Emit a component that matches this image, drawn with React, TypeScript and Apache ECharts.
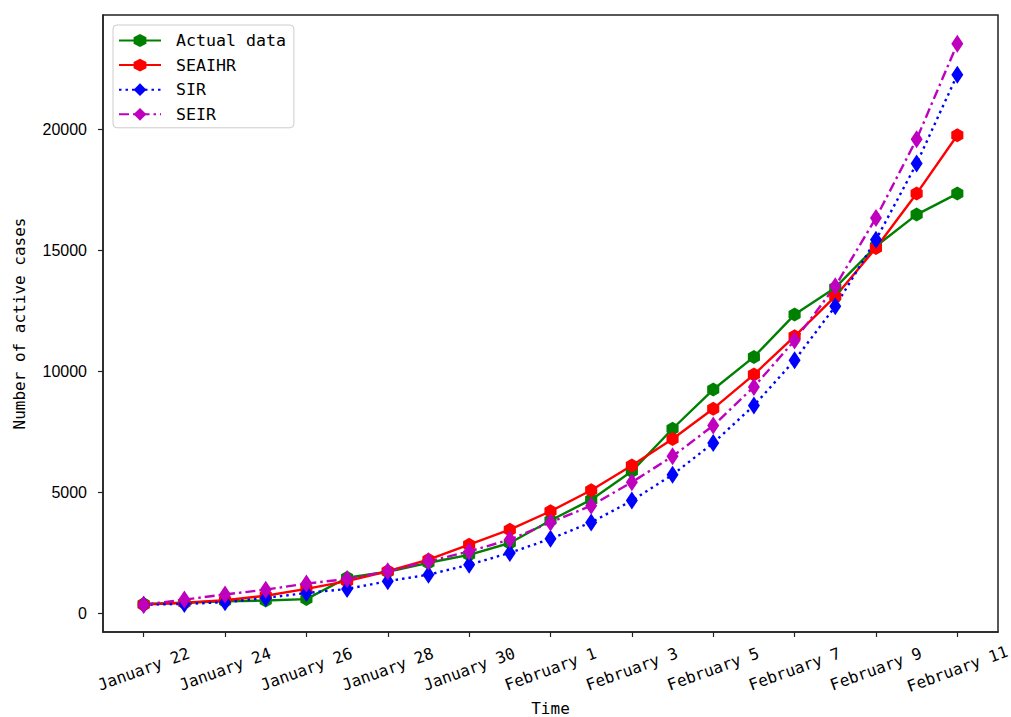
import React, { useEffect, useRef } from "react";
import * as echarts from "echarts";

const dates = [
  "January 22", "January 23", "January 24", "January 25", "January 26", "January 27", "January 28",
  "January 29", "January 30", "January 31", "February 1", "February 2", "February 3", "February 4",
  "February 5", "February 6", "February 7", "February 8", "February 9", "February 10", "February 11",
];
const actualData = [400, 450, 510, 540, 600, 1480, 1730, 2100, 2430, 2920, 3850, 4710, 5880, 7640, 9260, 10610, 12360, 13470, 15180, 16490, 17360];
const seaihr = [370, 450, 550, 740, 1020, 1340, 1750, 2230, 2850, 3470, 4230, 5100, 6120, 7220, 8470, 9880, 11460, 13110, 15110, 17360, 19770];
const sir = [370, 400, 470, 650, 850, 1020, 1340, 1610, 2020, 2510, 3090, 3770, 4670, 5740, 7050, 8600, 10470, 12700, 15450, 18600, 22270];
const seir = [370, 580, 790, 990, 1240, 1430, 1750, 2160, 2570, 3060, 3770, 4460, 5430, 6500, 7770, 9370, 11290, 13530, 16350, 19610, 23550];
const yTicks = [0, 5000, 10000, 15000, 20000];
const xTickIdx = [0, 2, 4, 6, 8, 10, 12, 14, 16, 18, 20];

const MONO = "'DejaVu Sans Mono', monospace";
const HEX = "path://M0,-1 L0.866,-0.5 L0.866,0.5 L0,1 L-0.866,0.5 L-0.866,-0.5 Z";

function toPts(arr: number[]) {
  return arr.map((v, i) => [i, v]);
}

export default function App() {
  const ref = useRef<HTMLDivElement>(null);
  useEffect(() => {
    if (!ref.current) return;
    const chart = echarts.init(ref.current, null, { renderer: "svg" });
    const mk = (name: string, data: number[], color: string, symbol: string, size: any, type: any) => ({
      name,
      type: "line",
      data: toPts(data),
      symbol,
      symbolSize: size,
      symbolKeepAspect: true,
      showSymbol: true,
      lineStyle: { color, width: 2.4, type },
      itemStyle: { color, borderWidth: 0 },
      emphasis: { disabled: true },
    });
    chart.setOption({
      animation: false,
      backgroundColor: "#fff",
      grid: {
        left: 103, right: 13, top: 15, bottom: 85,
        outerBoundsMode: "none",
        containLabel: false,
        show: true, borderColor: "#222", borderWidth: 1.5, backgroundColor: "transparent",
      },
      legend: {
        orient: "vertical",
        left: 113,
        top: 25,
        padding: [7, 8, 5, 5],
        itemWidth: 42,
        itemHeight: 16,
        itemGap: 7.6,
        borderColor: "#ccc",
        borderWidth: 1,
        borderRadius: 4,
        backgroundColor: "rgba(255,255,255,0.8)",
        textStyle: { fontFamily: MONO, fontSize: 16.6, color: "#000", lineHeight: 16, padding: [0, 0, 0, 10] },
        data: ["Actual data", "SEAIHR", "SIR", "SEIR"],
      },
      xAxis: {
        type: "value",
        min: -1,
        max: 21,
        name: "Time",
        nameLocation: "middle",
        nameGap: 67,
        nameTextStyle: { fontFamily: MONO, fontSize: 16, color: "#000" },
        axisLine: { show: true, onZero: false, lineStyle: { color: "#222", width: 1.5 } },
        axisTick: { show: true, length: 5, customValues: xTickIdx, lineStyle: { color: "#222", width: 1.2 } },
        axisLabel: {
          customValues: xTickIdx,
          formatter: (v: number) => dates[v] ?? "",
          rotate: 20,
          align: "center",
          verticalAlign: "middle",
          margin: 37,
          fontFamily: MONO,
          fontSize: 16,
          color: "#000",
        },
        splitLine: { show: false },
      },
      yAxis: {
        type: "value",
        min: -760,
        max: 24740,
        name: "Number of active cases",
        nameLocation: "middle",
        nameGap: 76,
        nameRotate: 90,
        nameTextStyle: { fontFamily: MONO, fontSize: 16, color: "#000" },
        axisLine: { show: true, onZero: false, lineStyle: { color: "#222", width: 1.5 } },
        axisTick: { show: true, length: 5, customValues: yTicks, lineStyle: { color: "#222", width: 1.2 } },
        axisLabel: {
          customValues: yTicks,
          formatter: (v: number) => String(v),
          margin: 16,
          fontFamily: "'Liberation Sans', Arial, sans-serif",
          fontSize: 16,
          color: "#000",
        },
        splitLine: { show: false },
      },
      series: [
        mk("Actual data", actualData, "#008000", HEX, 14, "solid"),
        mk("SEAIHR", seaihr, "#ff0000", HEX, 14, "solid"),
        mk("SIR", sir, "#0000ff", "diamond", [12, 18], [2.5, 4]),
        mk("SEIR", seir, "#bf00bf", "diamond", [12, 18], [10, 4, 2.5, 4]),
      ],
    });
    return () => chart.dispose();
  }, []);
  return <div ref={ref} style={{ position: "fixed", left: 0, top: 0, width: 1011, height: 717 }} />;
}
